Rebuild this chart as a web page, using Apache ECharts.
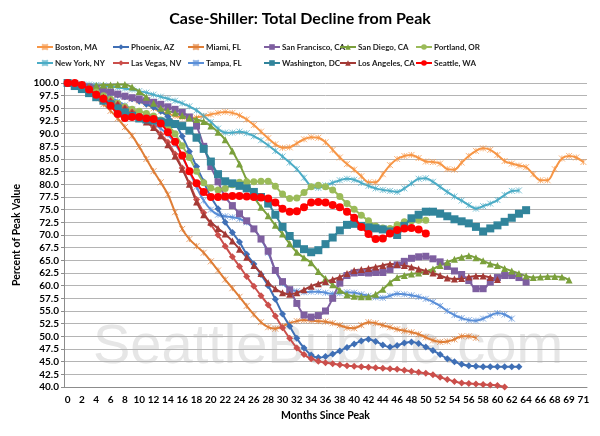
<!DOCTYPE html>
<html><head><meta charset="utf-8">
<script src="https://cdn.jsdelivr.net/npm/echarts@6/dist/echarts.min.js"></script>
<style>html,body{margin:0;padding:0;background:#fff}#c{width:600px;height:436px}</style>
</head><body><div id="c"></div>
<script>
const months = ['0','1','2','3','4','5','6','7','8','9','10','11','12','13','14','15','16','17','18','19','20','21','22','23','24','25','26','27','28','29','30','31','32','33','34','35','36','37','38','39','40','41','42','43','44','45','46','47','48','49','50','51','52','53','54','55','56','57','58','59','60','61','62','63','64','65','66','67','68','','69','70','71'];

const boston = [100,99.8,99.5,99.2,98.8,98.5,98.1,97.7,97.3,96.9, 96.4,95.9,95.0,94.4,93.9,93.5,93.2,93.1,93.2,93.5, 93.8,94.1,94.3,94.1,93.6,92.8,91.7,90.4,89.1,87.9, 87.2,87.3,88.1,88.9,89.3,89.2,88.3,86.8,85.3,84.0, 82.9,81.6,80.4,80.4,82.0,83.8,85.0,85.6,85.8,85.2, 84.5,84.4,84.1,83.0,82.9,84.3,85.6,86.6,87.1,86.8, 85.8,84.6,84.1,83.7,83.4,82.0,80.8,80.8,83.0,85.1, 85.6,85.3,84.4];
const phoenix = [100,99.8,99.5,99.2,98.9,98.5,98.1,97.7,97.3,96.9, 96.4,95.8,95.2,94.4,93.4,92.0,89.5,86.5,83.5,80.5, 77.5,75.2,72.5,70.5,68.6,66.2,64.3,62.2,60.0,57.3, 54.4,52.0,49.6,47.7,46.3,45.8,46.0,46.5,47.1,47.8, 48.5,49.1,49.4,49.0,48.3,47.9,48.2,48.7,48.9,48.6, 47.9,47.2,46.4,45.6,45.0,44.5,44.2,44.1,44.0,44.0, 44.0,44.0,44.0,44.0];
const miami = [100,99.4,98.8,98.0,97.0,95.8,94.5,93.0,91.3,89.6, 87.4,85.0,82.6,80.4,78.0,74.5,71.2,69.2,67.8,66.5, 64.8,63.0,61.2,59.5,57.8,56.0,54.3,52.8,51.8,51.5, 52.0,52.6,53.0,53.2,53.1,53.0,52.9,52.6,52.2,51.7, 51.6,52.2,52.8,52.6,52.2,51.8,51.4,51.1,50.8,50.4, 49.8,49.2,48.9,49.0,49.4,50.0,50.0,49.7];
const sanFrancisco = [100,99.8,99.5,99.2,98.9,98.5,98.2,97.8,97.4,97.1, 96.8,96.5,96.2,95.8,95.3,94.8,94.2,93.3,91.5,87.5, 83.5,80.5,77.5,75.8,74.2,72.8,71.2,69.2,66.8,63.0, 60.8,59.2,56.5,54.2,53.8,54.1,55.0,57.5,60.5,62.0, 62.5,62.6,62.5,62.6,62.6,63.2,64.1,64.8,65.4,65.7, 65.8,65.3,64.7,63.8,62.9,62.2,61.0,59.4,59.4,60.7, 61.6,62.0,62.0,61.6,60.7];
const sanDiego = [100,99.4,99.2,99.3,99.5,99.6,99.6,99.7,99.7,99.2, 98.3,97.2,96.0,95.0,94.5,94.1,93.6,93.1,92.8,92.4, 91.5,90.3,88.8,86.6,84.0,80.8,77.6,75.5,73.8,71.9, 70.2,68.3,66.6,65.5,64.5,62.8,61.4,60.2,59.1,58.2, 57.9,57.8,57.8,58.3,59.3,60.6,61.6,62.0,62.3,62.5, 62.8,63.3,64.0,64.6,65.2,65.6,65.9,65.5,64.9,64.3, 64.0,63.4,62.9,62.4,61.9,61.6,61.7,61.8,61.8,61.7, 61.1];
const portland = [100,99.6,99.2,98.7,98.2,97.5,96.8,96.0,95.3,94.8, 94.4,94.0,93.5,92.7,91.6,90.0,87.6,85.3,82.6,80.3, 79.3,78.9,79.2,79.9,80.4,80.5,80.5,80.6,80.6,79.6, 78.1,77.2,77.3,78.4,79.5,79.8,79.5,78.9,77.6,76.2, 75.1,73.9,72.8,71.8,71.4,71.3,72.0,72.6,72.8,72.9, 72.9];
const newYork = [100,99.9,99.8,99.7,99.6,99.5,99.3,99.1,98.9,98.7, 98.4,98.1,97.7,97.3,96.9,96.5,96.0,95.4,94.6,93.5, 92.3,91.0,90.2,90.2,90.4,90.1,89.5,88.7,87.7,86.6, 85.5,84.3,83.0,81.3,79.6,79.3,79.8,80.3,80.8,81.1, 80.9,80.3,79.7,79.2,78.9,78.7,78.5,79.2,80.2,81.1, 81.2,80.5,79.5,78.5,77.6,76.8,75.9,75.2,75.7,76.2, 76.9,77.9,78.7,78.8];
const lasVegas = [100,99.6,99.0,98.4,97.8,97.1,96.5,95.8,95.1,94.3, 93.4,92.4,91.3,89.9,88.3,86.0,83.2,80.2,77.0,74.4, 72.1,70.0,67.8,65.7,63.8,61.8,59.9,58.0,56.2,54.0, 51.7,49.6,47.7,46.4,45.6,45.1,44.8,44.6,44.4,44.2, 44.1,44.0,43.9,43.8,43.7,43.6,43.5,43.3,43.1,42.9, 42.7,42.4,41.9,41.5,41.1,40.8,40.7,40.6,40.5,40.4, 40.3,40.0];
const tampa = [100,99.7,99.3,98.8,98.3,97.7,97.1,96.4,95.6,94.8, 93.9,93.0,92.0,91.0,89.8,88.0,85.5,82.5,79.5,76.8, 75.0,74.0,73.7,73.5,73.2,72.5,71.2,69.2,66.5,63.0, 60.5,59.3,58.9,58.7,58.8,58.8,58.6,58.4,58.5,58.7, 58.6,58.3,58.0,57.7,57.6,58.0,58.4,58.3,58.1,57.8, 57.4,56.8,56.0,55.0,54.2,53.6,53.2,53.1,53.5,54.1, 54.6,54.3,53.5];
const washington = [100,99.4,98.8,98.0,97.2,96.5,95.8,95.0,94.2,93.5, 93.0,92.8,92.6,92.4,92.2,91.9,91.5,90.6,89.2,87.0, 84.5,82.0,80.6,80.2,79.7,79.2,78.5,77.5,76.2,74.0, 71.6,69.8,68.3,67.2,66.6,67.0,68.2,69.5,70.9,72.0, 72.2,71.8,71.5,71.3,71.1,70.7,70.0,71.8,73.3,74.0, 74.6,74.6,74.2,73.7,73.1,72.7,72.3,71.6,70.7,71.3, 71.9,72.6,73.4,74.2,74.9];
const losAngeles = [100,99.6,99.1,98.5,97.9,97.2,96.5,95.8,95.0,94.2, 93.3,92.3,91.2,89.6,87.8,85.6,83.0,80.0,76.5,74.0, 72.5,71.3,70.2,68.8,67.2,65.6,64.0,62.4,60.6,59.4, 58.6,58.3,58.6,59.2,59.9,60.4,60.8,61.2,61.7,62.4, 63.0,63.2,63.4,63.7,64.0,64.3,64.2,64.0,63.7,63.3, 62.9,62.5,62.0,61.5,61.3,61.4,61.7,61.9,61.9,61.6, 61.2];
const seattle = [100,100,99.6,98.7,97.7,96.9,95.5,93.9,93.1,93.3, 93.3,93.0,92.9,92.0,90.3,88.4,85.7,82.6,80.2,78.5, 77.5,77.5,77.6,77.7,77.7,77.6,77.5,77.4,77.2,76.4, 75.2,74.6,74.7,75.5,76.4,76.5,76.4,75.9,75.5,74.6, 73.4,71.6,70.2,69.2,69.3,70.3,71.0,71.3,71.4,71.1, 70.3];

const seriesNames = ['Boston, MA','Phoenix, AZ','Miami, FL','San Francisco, CA','San Diego, CA','Portland, OR','New York, NY','Las Vegas, NV','Tampa, FL','Washington, DC','Los Angeles, CA','Seattle, WA'];
const seriesData = [boston, phoenix, miami, sanFrancisco, sanDiego, portland, newYork, lasVegas, tampa, washington, losAngeles, seattle];

const STAR = 'path://M0,0L10,10M10,0L0,10M5,0L5,10';
const styles = [
  {c:'#F79646', s:STAR, z:5},
  {c:'#3F6FB5', s:'diamond', z:7},
  {c:'#DF7E36', s:STAR, z:5},
  {c:'#7E5FA0', s:'rect', z:7},
  {c:'#7BA03C', s:'triangle', z:7},
  {c:'#9BBB59', s:'circle', z:7},
  {c:'#4BACC6', s:STAR, z:5},
  {c:'#CB4F4B', s:'diamond', z:7},
  {c:'#5A8FD8', s:STAR, z:5},
  {c:'#31849B', s:'rect', z:8},
  {c:'#A33A36', s:'triangle', z:7},
  {c:'#FF0000', s:'circle', z:9}
];

const FONT = 'Lato';
const chart = echarts.init(document.getElementById('c'), null, {renderer:'canvas'});
const legendX = [36,112,187,263,339,415];
const legendY = [43,59];
const legends = seriesNames.map((n,i)=>({
  data:[n], left: legendX[i%6], top: legendY[Math.floor(i/6)], padding:0,
  itemWidth:16, itemHeight:7, itemGap:2, selectedMode:false,
  textStyle:{fontFamily:FONT, fontSize:8, fontWeight:'bold', color:'#222', padding:[0,0,0,-3]}
}));

const series = seriesNames.map((n,i)=>{
  const st = styles[i];
  const isStar = st.s === STAR;
  const sz = st.s==='circle' ? (i===11?8:7) : st.s==='rect' ? (i===9?8:7) : st.s==='triangle' ? 7 : st.s==='diamond' ? 7 : 6;
  return {
    name:n, type:'line', data:seriesData[i], smooth:0.35, z: st.z,
    symbol: st.s, symbolSize: sz, showAllSymbol:true,
    lineStyle:{color:st.c, width:2},
    itemStyle:{color: isStar ? 'rgba(0,0,0,0)' : st.c, borderColor: st.c, borderWidth: isStar?1:0, opacity: isStar?0.7:1},
    emphasis:{disabled:true}, animation:false
  };
});

chart.setOption({
  animation:false,
  backgroundColor:'#fff',
  title:{text:'Case-Shiller: Total Decline from Peak', left:'center', top:6,
    textStyle:{fontFamily:FONT, fontSize:16, fontWeight:'bold', color:'#000'}},
  legend: legends,
  grid:{left:64, right:13, top:83, bottom:49, containLabel:false},
  graphic:[{type:'text', left:93, top:320, z:-1, silent:true,
    style:{text:'SeattleBubble.com', fontFamily:'Liberation Sans', fontSize:56, fill:'#e6e6e6'}}],
  xAxis:{type:'category', data:months, boundaryGap:true,
    name:'Months Since Peak', nameLocation:'middle', nameGap:23,
    nameTextStyle:{fontFamily:FONT, fontSize:10.5, fontWeight:'bold', color:'#000'},
    axisLine:{lineStyle:{color:'#8c8c8c'}},
    axisTick:{interval:0, length:4, lineStyle:{color:'#8c8c8c'}},
    axisLabel:{interval:1, margin:8, fontFamily:FONT, fontSize:10, fontWeight:'bold', color:'#000'},
    splitLine:{show:false}},
  yAxis:{type:'value', min:40, max:100, interval:2.5,
    name:'Percent of Peak Value', nameLocation:'middle', nameGap:42, nameRotate:90,
    nameTextStyle:{fontFamily:FONT, fontSize:10.5, fontWeight:'bold', color:'#000'},
    axisLine:{show:true, lineStyle:{color:'#8c8c8c'}},
    axisTick:{show:true, length:3, lineStyle:{color:'#8c8c8c'}},
    axisLabel:{margin:5, fontFamily:FONT, fontSize:10, fontWeight:'bold', color:'#000', formatter:v=>v.toFixed(1)},
    splitLine:{lineStyle:{color:'#b4b4b4', width:1}}},
  series: series
});
</script></body></html>
